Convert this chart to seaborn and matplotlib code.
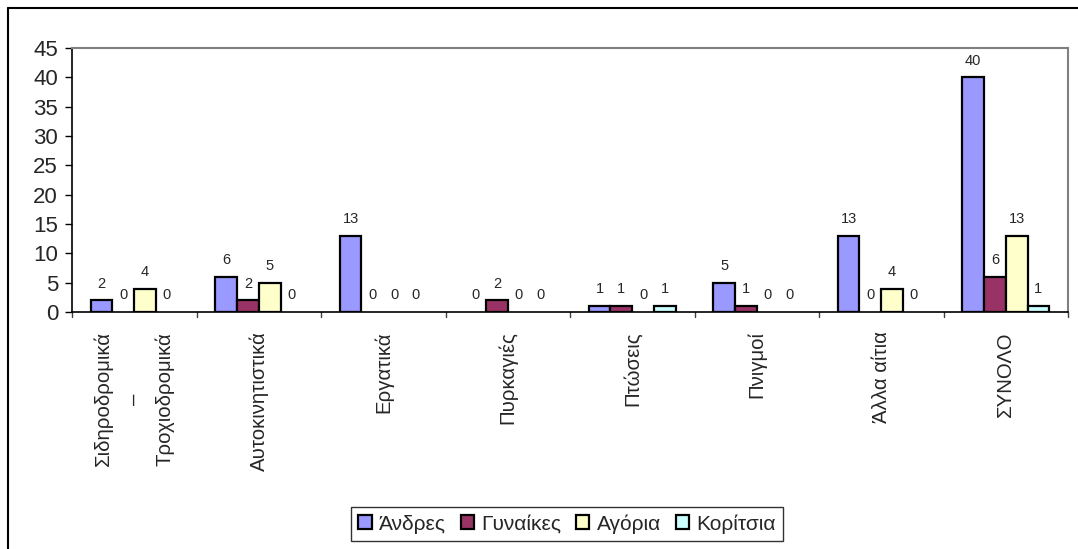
import pandas as pd
import matplotlib.pyplot as plt
import seaborn as sns
from matplotlib.lines import Line2D

categories = ['Σιδηροδρομικά\n–\nΤροχιοδρομικά', 'Αυτοκινητιστικά', 'Εργατικά', 'Πυρκαγιές',
              'Πτώσεις', 'Πνιγμοί', 'Άλλα αίτια', 'ΣΥΝΟΛΟ']
series = ['Άνδρες', 'Γυναίκες', 'Αγόρια', 'Κορίτσια']
andres = [2, 6, 13, 0, 1, 5, 13, 40]
gynaikes = [0, 2, 0, 2, 1, 1, 0, 6]
agoria = [4, 5, 0, 0, 0, 0, 4, 13]
koritsia = [0, 0, 0, 0, 1, 0, 0, 1]
colors = ['#9999FF', '#993366', '#FFFFCC', '#CCFFFF']

rows = []
for name, vals in zip(series, [andres, gynaikes, agoria, koritsia]):
    for c, v in zip(categories, vals):
        rows.append({'Αιτία': c, 'Φύλο': name, 'Αριθμός': v})
df = pd.DataFrame(rows)

sns.set_style('white')
plt.rcParams['font.family'] = ['Liberation Sans', 'DejaVu Sans']

fig = plt.figure(figsize=(10.78, 5.49), dpi=100)
ax = fig.add_axes([72/1078, 1 - 312/549, (1068 - 72)/1078, (312 - 48)/549])

sns.barplot(data=df, x='Αιτία', y='Αριθμός', hue='Φύλο', palette=colors, width=0.7, gap=0,
            edgecolor='black', linewidth=1.6, saturation=1, ax=ax)

for cont in ax.containers:
    ax.bar_label(cont, padding=7, fontsize=10.5)
    for p in cont.patches:
        if p.get_height() == 0:
            p.set_edgecolor('none')

ax.set_ylim(0, 45)
ax.set_yticks(range(0, 46, 5))
ax.set_xlim(-0.5, len(categories) - 0.5)
ax.set_xlabel('')
ax.set_ylabel('')
ax.tick_params(axis='y', labelsize=16, length=5, width=1, direction='out', left=True, color='black', pad=5)
ax.set_xticks(range(len(categories)))
ax.set_xticklabels(categories, rotation=90, fontsize=14.7, va='top', ha='center', multialignment='center',
                   linespacing=1.75)
ax.tick_params(axis='x', length=0, pad=14)
# category boundary ticks
for b in range(len(categories) + 1):
    ax.plot([b - 0.5, b - 0.5], [0, -0.8], color='#404040', lw=1, clip_on=False)

for s in ['left', 'bottom']:
    ax.spines[s].set_color('black')
    ax.spines[s].set_linewidth(1.2)
for s in ['top', 'right']:
    ax.spines[s].set_color('#808080')
    ax.spines[s].set_linewidth(1.5)

handles, labels = ax.get_legend_handles_labels()
ax.get_legend().remove()
leg = fig.legend(handles, labels, loc='center', bbox_to_anchor=(567/1078, 1 - 524/549), ncol=4,
                 fontsize=15, frameon=True, fancybox=False, edgecolor='black', handlelength=0.65,
                 handleheight=0.65, handletextpad=0.35, columnspacing=0.7, borderpad=0.35)
leg.get_frame().set_linewidth(1)

# outer chart border (top and left edges visible)
fig.add_artist(Line2D([8/1078, 8/1078], [0, 1 - 8/549], color='black', lw=1.5))
fig.add_artist(Line2D([8/1078, 1], [1 - 8/549, 1 - 8/549], color='black', lw=1.5))

fig.savefig('out.png', dpi=100, facecolor='white')
